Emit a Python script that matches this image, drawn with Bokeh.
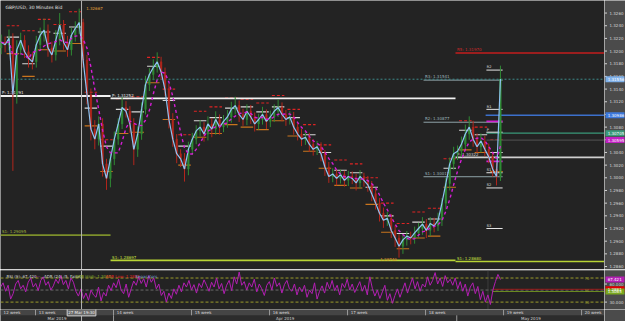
import numpy as np
from bokeh.plotting import figure
from bokeh.layouts import column, row
from bokeh.models import Range1d, Label, Span
from bokeh.embed import file_html
from bokeh.resources import INLINE
from bokeh.core.properties import value

# ---------------- data ----------------
first_day = -2.2          # trading days since Mon 25 Mar 2019
bar_step = 0.25
first_open = 1.3205
closes = [
    1.3214, 1.3210, 1.3220, 1.3131, 1.3202, 1.3217, 1.3199, 1.3189, 1.3183, 1.3210,
    1.3225, 1.3233, 1.3205, 1.3194, 1.3217, 1.3241, 1.3214, 1.3202, 1.3225, 1.3236,
    1.3245, 1.3186, 1.3131, 1.3077, 1.3061, 1.3085, 1.3022, 1.2999, 1.3030, 1.3061,
    1.3085, 1.3111, 1.3105, 1.3085, 1.3045, 1.3069, 1.3108, 1.3147, 1.3163, 1.3174,
    1.3183, 1.3167, 1.3139, 1.3092, 1.3061, 1.3038, 1.3030, 1.3014, 1.3045, 1.3061,
    1.3074, 1.3080, 1.3069, 1.3085, 1.3077, 1.3092, 1.3080, 1.3089, 1.3096, 1.3108,
    1.3114, 1.3100, 1.3092, 1.3105, 1.3096, 1.3085, 1.3092, 1.3100, 1.3089, 1.3096,
    1.3105, 1.3111, 1.3100, 1.3092, 1.3096, 1.3080, 1.3069, 1.3061, 1.3064, 1.3053,
    1.3045, 1.3049, 1.3038, 1.3017, 1.3002, 1.3006, 1.2999, 1.3005, 1.2996, 1.3002,
    1.2999, 1.2992, 1.3002, 1.2996, 1.2989, 1.2975, 1.2960, 1.2944, 1.2933, 1.2936,
    1.2917, 1.2905, 1.2892, 1.2902, 1.2908, 1.2905, 1.2913, 1.2920, 1.2927, 1.2917,
    1.2928, 1.2924, 1.2933, 1.2960, 1.2991, 1.3022, 1.3038, 1.3042, 1.3053, 1.3069,
    1.3080, 1.3061, 1.3049, 1.3058, 1.3045, 1.3033, 1.3014, 1.3002, 1.3156,
]
up_pips = [
    12, 9, 14, 8, 15, 12, 8, 10, 9, 14,
    12, 18, 9, 10, 16, 19, 8, 10, 12, 11,
    22, 6, 8, 10, 14, 12, 9, 8, 10, 12,
    9, 16, 10, 8, 9, 12, 11, 14, 10, 13,
    15, 8, 7, 9, 10, 8, 7, 9, 12, 10,
    9, 11, 8, 12, 9, 13, 8, 10, 11, 12,
    14, 8, 9, 11, 10, 7, 9, 12, 8, 10,
    11, 13, 8, 7, 9, 8, 7, 8, 9, 7,
    8, 9, 7, 6, 8, 9, 7, 8, 6, 9,
    8, 7, 10, 6, 7, 6, 7, 8, 9, 10,
    7, 8, 6, 9, 8, 7, 10, 9, 11, 8,
    10, 9, 12, 8, 9, 10, 11, 9, 12, 15,
    17, 10, 9, 12, 8, 9, 7, 10, 21,
]
down_pips = [
    10, 12, 9, 120, 14, 8, 10, 15, 12, 9,
    8, 10, 14, 12, 9, 8, 12, 11, 9, 10,
    9, 12, 15, 18, 16, 10, 20, 18, 14, 10,
    9, 8, 10, 14, 25, 12, 9, 8, 10, 9,
    8, 12, 10, 14, 12, 15, 13, 20, 10, 9,
    8, 9, 12, 10, 13, 9, 12, 8, 10, 9,
    8, 12, 10, 9, 11, 12, 9, 8, 12, 9,
    8, 9, 11, 10, 8, 12, 10, 11, 9, 12,
    10, 9, 12, 14, 10, 9, 11, 8, 10, 9,
    9, 12, 8, 10, 11, 12, 10, 13, 12, 9,
    12, 14, 18, 12, 9, 10, 9, 8, 10, 12,
    9, 10, 8, 9, 10, 11, 9, 10, 9, 8,
    9, 12, 10, 9, 11, 10, 12, 14, 7,
]
rsi_values = [
    55, 62, 48, 58, 35, 44, 60, 66, 52, 58, 47, 63, 70, 55, 61, 49, 66, 72, 58, 64,
    50, 57, 68, 61, 74, 59, 66, 52, 70, 63, 48, 40, 52, 36, 45, 33, 50, 42, 38, 55,
    32, 46, 40, 58, 49, 62, 54, 68, 50, 44, 60, 38, 52, 65, 58, 72, 61, 69, 55, 74,
    63, 70, 52, 60, 41, 48, 30, 45, 36, 52, 43, 58, 47, 62, 55, 66, 50, 59, 45, 61,
    54, 67, 58, 48, 63, 55, 70, 52, 61, 44, 58, 66, 49, 72, 60, 80, 58, 64, 50, 62,
    55, 68, 47, 60, 52, 41, 58, 64, 50, 70, 56, 62, 45, 59, 66, 52, 48, 60, 42, 55,
    47, 58, 38, 50, 44, 62, 35, 48, 57, 45, 63, 52, 66, 49, 58, 42, 61, 54, 68, 50,
    60, 46, 55, 64, 48, 58, 42, 72, 53, 40, 50, 36, 47, 58, 33, 44, 28, 41, 52, 38,
    50, 62, 45, 58, 70, 52, 64, 48, 60, 55, 72, 58, 66, 79, 60, 70, 56, 74, 62, 68,
    58, 70, 52, 64, 48, 60, 40, 55, 62, 44, 56, 34, 48, 30, 42, 26, 50, 64, 76, 67.42,
]
rsi_first_day = -2.24
rsi_last_day = 29.8

# daily pivot-type levels, one per trading day from day -2 to day 29
level_days = list(range(-2, 30))
red_lvl = [1.3240, 1.3232, 1.3250, 1.3242, 1.3262, 1.3135, 1.3060, 1.3125, 1.3128, 1.3190,
           1.3140, 1.3068, 1.3105, 1.3112, 1.3126, 1.3124, 1.3118, 1.3130, 1.3108, 1.3084,
           1.3052, 1.3028, 1.3022, 1.3000, 1.2960, 1.2928, 1.2946, 1.2952, 1.3030, 1.3090,
           1.3080, 1.3060]
white_lvl = [1.3222, 1.3180, 1.3230, 1.3228, 1.3238, 1.3110, 1.3050, 1.3108, 1.3104, 1.3176,
             1.3122, 1.3050, 1.3090, 1.3095, 1.3110, 1.3112, 1.3104, 1.3112, 1.3095, 1.3068,
             1.3040, 1.3012, 1.3008, 1.2985, 1.2940, 1.2912, 1.2930, 1.2935, 1.3015, 1.3075,
             1.3068, 1.3040]
orange_lvl = [1.3196, 1.3160, 1.3202, 1.3200, 1.3212, 1.3082, 1.3010, 1.3070, 1.3072, 1.3150,
              1.3092, 1.3020, 1.3064, 1.3070, 1.3084, 1.3080, 1.3076, 1.3090, 1.3066, 1.3042,
              1.3015, 1.2988, 1.2984, 1.2958, 1.2914, 1.2888, 1.2905, 1.2908, 1.2985, 1.3044,
              1.3040, 1.3010]

# long levels: price, start day, end day
lvl_names = ["S1: 1.29095", "S1: 1.28697", "S1: 1.28680", "P: 1.31291", "P: 1.31252",
             "R5: 1.31970", "R3: 1.31541", "R2: 1.30877", "S1: 1.30017", "P: 1.30322"]
lvl_price = [1.29095, 1.28697, 1.28680, 1.31291, 1.31252, 1.31970, 1.31541, 1.30877, 1.30017, 1.30322]
lvl_start = [-2.25, 4.81, 26.92, -2.25, 4.81, 26.92, 24.87, 24.87, 24.87, 26.92]
lvl_end = [4.81, 26.92, 36.5, 4.81, 26.92, 36.5, 29.94, 29.94, 29.94, 36.5]
lvl_colors = ["#7d8f2b", "#b8d435", "#b8d435", "#f2f2f2", "#f2f2f2",
              "#c41e1e", "#8fa3a8", "#8fa3a8", "#8fa3a8", "#cfcfcf"]
lvl_text_colors = ["#a0b43c", "#c8e040", "#c8e040", "#e8e8e8", "#e8e8e8",
                   "#d02a2a", "#9fb6bc", "#9fb6bc", "#9fb6bc", "#d8d8d8"]
lvl_widths = [1.6, 1.6, 1.6, 1.8, 1.8, 1.4, 1.0, 1.0, 1.0, 1.8]

# right-edge levels (current week)
edge_price = [1.30986, 1.30705, 1.30595]
edge_start = [28.85, 28.9, 28.9]
edge_colors = ["#3c70cc", "#3a9a7a", "#4a4a4a"]

week_piv_names = ["R2", "R1", "P", "S1", "S2", "S3"]
week_piv_price = [1.3170, 1.3108, 1.3072, 1.3008, 1.2984, 1.2920]
mag_piv_price = [1.3089, 1.3026]

current_price = 1.31556
crosshair_day = 2.95
crosshair_price = 1.32667
low_day = 22.1
low_price = 1.28740

tag_prices = [1.31556, 1.30986, 1.30705, 1.30595]
tag_colors = ["#7fb0e8", "#3c78dc", "#3a9a7a", "#c21fc2"]
price_ticks = [1.2860, 1.2880, 1.2900, 1.2920, 1.2940, 1.2960, 1.2980, 1.3000, 1.3020,
               1.3040, 1.3060, 1.3080, 1.3100, 1.3120, 1.3140, 1.3160, 1.3180, 1.3200,
               1.3220, 1.3240, 1.3260]
rsi_ticks = [60, 30]
rsi_levels = [70, 50, 30]
adr_high_level = 47.6
adr_low_level = 51.3
rsi_tag_values = [67.42, 51.3, 47.6]
rsi_tag_texts = ["67.421", "1.2881", "1.3065"]
rsi_tag_colors = ["#b41fb4", "#e00000", "#7aa81e"]

weeks = ["12 week", "13 week", "14 week", "15 week", "16 week", "17 week", "18 week", "19 week", "20 week"]
week_starts = [-5, 0, 5, 10, 15, 20, 25, 30, 35]
months = ["Mar 2019", "Apr 2019", "May 2019"]
month_bounds = [-2.25, 5, 27, 36.5]

# ---------------- styling ----------------
BG = "#232323"
BAND = "#4b4b4b"
FONT = value("DejaVu Sans")
FS = "4px"

X0, X1 = -2.244, 36.47
xr = Range1d(X0, X1)


def make_fig(fh, yr, top=0, bg=BG):
    f = figure(frame_width=604, frame_height=fh, x_range=xr, y_range=yr,
               output_backend="svg", toolbar_location=None,
               x_axis_location=None, y_axis_location=None,
               min_border_left=0, min_border_right=0, min_border_top=top,
               min_border_bottom=0, background_fill_color=bg,
               border_fill_color=BAND, outline_line_color=None)
    f.grid.visible = False
    return f


def make_side(fh, yr, top=0):
    f = figure(frame_width=21, frame_height=fh, x_range=Range1d(0, 21), y_range=yr,
               output_backend="svg", toolbar_location=None,
               x_axis_location=None, y_axis_location=None,
               min_border_left=0, min_border_right=0, min_border_top=top,
               min_border_bottom=0, background_fill_color=BAND,
               border_fill_color=BAND, outline_line_color=None)
    f.grid.visible = False
    return f


def draw_scale(side, ticks, labels, tag_vals, tag_txts, tag_cols):
    side.segment([0] * len(ticks), ticks, [2.5] * len(ticks), ticks, line_color="#d0d0d0", line_width=1)
    side.text([5] * len(ticks), ticks, text=labels, text_color="#d8d8d8", text_font=FONT,
              text_font_size=FS, text_baseline="middle")
    side.rect([10.5] * len(tag_vals), tag_vals, width=19, height=6, height_units="screen",
              fill_color=tag_cols, line_color=None)
    side.text([3.2] * len(tag_vals), tag_vals, text=tag_txts, text_color="#ffffff", text_font=FONT,
              text_font_size=FS, text_baseline="middle")


# ---------------- price panel ----------------
price_range = Range1d(1.28553, 1.32798)
p = make_fig(269, price_range)
ps = make_side(269, price_range)
draw_scale(ps, price_ticks, [f"{t:.4f}" for t in price_ticks],
           tag_prices, [f"{t:.5f}" for t in tag_prices], tag_colors)

n = len(closes)
xs = [first_day + bar_step * i for i in range(n)]
opens = [first_open] + closes[:-1]
tops = [max(o, c) for o, c in zip(opens, closes)]
bots = [min(o, c) for o, c in zip(opens, closes)]
highs = [t + u * 1e-4 for t, u in zip(tops, up_pips)]
lows = [b - d * 1e-4 for b, d in zip(bots, down_pips)]
cols = ["#2f8a34" if c >= o else "#b3261c" for o, c in zip(opens, closes)]

# daily levels
for lv, col, dash in ((red_lvl, "#e02424", "3 2"), (white_lvl, "#d8d8d8", "solid"),
                      (orange_lvl, "#c9751e", "solid")):
    p.segment([d + 0.15 for d in level_days], lv, [d + 0.95 for d in level_days], lv,
              line_color=col, line_width=1.1, line_dash=dash)

# long levels
p.segment(lvl_start, lvl_price, lvl_end, lvl_price, line_color=lvl_colors, line_width=lvl_widths)
p.text([s + 0.1 for s in lvl_start], [pr + 0.00012 for pr in lvl_price], text=lvl_names,
       text_color=lvl_text_colors, text_font=FONT, text_font_size=FS, text_baseline="bottom")
p.segment(edge_start, edge_price, [36.5] * 3, edge_price, line_color=edge_colors, line_width=1.4)
p.segment([28.9] * 6, week_piv_price, [29.94] * 6, week_piv_price, line_color="#e6e6e6", line_width=1)
p.text([28.92] * 6, [pr + 0.0001 for pr in week_piv_price], text=week_piv_names,
       text_color="#e6e6e6", text_font=FONT, text_font_size="3.5px", text_baseline="bottom")
p.segment([28.9] * 2, mag_piv_price, [29.94] * 2, mag_piv_price, line_color="#d020d0", line_width=1.6)

# current price line
p.segment([X0], [current_price], [X1], [current_price], line_color="#3d8c8c", line_width=1, line_dash="2 2")

# candles
p.segment(xs, highs, xs, lows, line_color=cols, line_width=1)
p.vbar(x=xs, width=0.1, top=tops, bottom=bots, fill_color=cols, line_color=cols, line_width=0.5)
p.line(xs, closes, line_color="#8fc3f2", line_width=1.2)
sma = [float(np.mean(closes[max(0, i - 4):i + 1])) for i in range(n)]
p.line(xs, sma, line_color="#d51dd5", line_width=1.4, line_dash="3 3")

p.text([crosshair_day + 0.3], [crosshair_price], text=[f"{crosshair_price:.5f}"],
       text_color="#e8a33a", text_font=FONT, text_font_size=FS, text_baseline="middle")
p.text([low_day], [low_price], text=[f"{low_price:.5f}"], text_color="#e0922a",
       text_font=FONT, text_font_size=FS, text_baseline="top")

p.add_layout(Span(location=crosshair_day, dimension="height", line_color="#b4b4b4", line_width=1))
p.add_layout(Label(x=5, y=262, x_units="screen", y_units="screen", text="GBP/USD, 30 Minutes Bid",
                   text_font_size="4.5px", text_color="#e0e0e0", text_font="DejaVu Sans",
                   text_baseline="middle"))

# ---------------- RSI panel ----------------
rsi_range = Range1d(17.7, 82.5)
r = make_fig(39, rsi_range, top=1)
rs = make_side(39, rsi_range, top=1)
draw_scale(rs, rsi_ticks, [f"{t:.3f}" for t in rsi_ticks], rsi_tag_values, rsi_tag_texts, rsi_tag_colors)
rx = np.linspace(rsi_first_day, rsi_last_day, len(rsi_values))
r.segment([X0] * 3, rsi_levels, [X1] * 3, rsi_levels,
          line_color=["#9a9a2a", "#6a6a6a", "#9a9a2a"], line_width=1, line_dash="3 2")
r.segment([29.3, 29.3], [adr_low_level, adr_high_level], [X1, X1], [adr_low_level, adr_high_level],
          line_color=["#9a1a1a", "#6a8a20"], line_width=1)
r.segment([29.0], [17.7], [29.0], [82.5], line_color="#555555", line_width=1, line_dash="1 1")
r.line(rx, rsi_values, line_color="#b21fb2", line_width=1)
r.text([35.2] * 3, rsi_levels, text=["70", "50", "30"], text_color="#a0a030",
       text_font=FONT, text_font_size="3.5px", text_baseline="middle")
r.add_layout(Span(location=crosshair_day, dimension="height", line_color="#b4b4b4", line_width=1))
legend_parts = [(6, "RSI (9): 67.420", "#d0d0d0"), (32, "——", "#b21fb2"),
                (41, ", ADR (24) (5, False):", "#d0d0d0"), (75, "ADR High: 1.3065,", "#8ab02a"),
                (105, "ADR Low: 1.2881,", "#e02020"), (135, "Separators", "#6f9fd8")]
for xx, txt, col in legend_parts:
    r.add_layout(Label(x=xx, y=33, x_units="screen", y_units="screen", text=txt,
                       text_font_size=FS, text_color=col, text_font="DejaVu Sans",
                       text_baseline="middle"))

# ---------------- time strip ----------------
s = make_fig(12, Range1d(0, 12), bg="#2c2c2c")
ss = make_side(12, Range1d(0, 12))
s.quad(left=[X0], right=[X1], bottom=[6.2], top=[12], fill_color="#454545", line_color=None)
s.segment(week_starts, [6.2] * len(week_starts), week_starts, [12] * len(week_starts),
          line_color="#9a9a9a", line_width=1)
s.text([max(w, X0) + 0.2 for w in week_starts], [9.1] * len(weeks), text=weeks,
       text_color="#d8d8d8", text_font=FONT, text_font_size=FS, text_baseline="middle")
s.segment(month_bounds[1:-1], [0, 0], month_bounds[1:-1], [6.2, 6.2], line_color="#9a9a9a", line_width=1)
s.text([(a + b) / 2 for a, b in zip(month_bounds[:-1], month_bounds[1:])], [3.3] * 3, text=months,
       text_color="#d0d0d0", text_font=FONT, text_font_size=FS, text_baseline="middle",
       text_align="center")
s.add_layout(Span(location=crosshair_day, dimension="height", line_color="#b4b4b4", line_width=1))
s.add_layout(Label(x=crosshair_day, y=9.1, text="27 Mar 19:30", text_font_size=FS,
                   text_color="#f0f0f0", text_font="DejaVu Sans", text_baseline="middle",
                   text_align="center", background_fill_color="#6a6a6a",
                   border_line_color="#d0d0d0", padding=1))

layout = column(row(p, ps, spacing=0), row(r, rs, spacing=0), row(s, ss, spacing=0), spacing=0)
open("out.html", "w").write(file_html(layout, INLINE))
